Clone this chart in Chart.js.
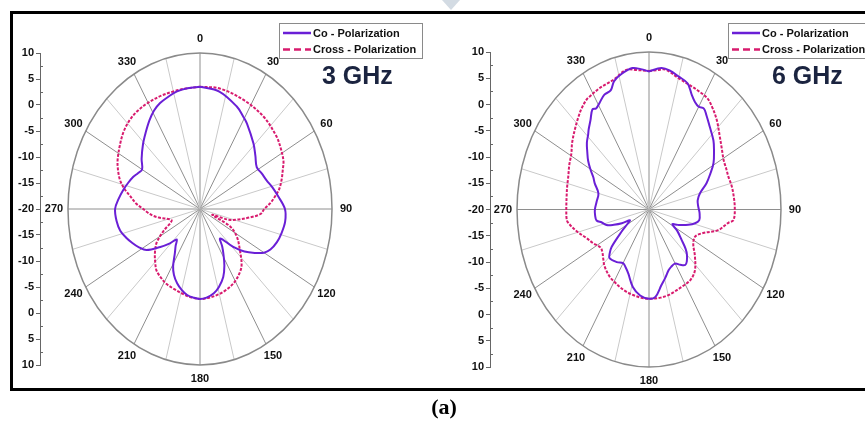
<!DOCTYPE html>
<html>
<head>
<meta charset="utf-8">
<script src="https://cdn.jsdelivr.net/npm/chart.js@4.4.1/dist/chart.umd.min.js"></script>
<style>
  body { margin: 0; background: #fff; width: 865px; height: 421px; overflow: hidden; position: relative; }
  #frame { position: absolute; left: 10px; top: 11px; width: 900px; height: 374px; border: 3px solid #000; border-right: none; }
  #tri { position: absolute; left: 442px; top: 0; width: 0; height: 0; border-left: 9px solid transparent; border-right: 9px solid transparent; border-top: 10px solid #d3dbe3; }
  canvas { position: absolute; top: 0; }
  #c3 { left: 0; }
  #c6 { left: 440px; }
  #cap { position: absolute; left: 0; width: 888px; top: 394px; text-align: center; font: bold 22px 'Liberation Serif', 'Times New Roman', serif; }
</style>
</head>
<body>
<div id="frame"></div>
<div id="tri"></div>
<canvas id="c3" width="440" height="421"></canvas>
<canvas id="c6" width="425" height="421"></canvas>
<div id="cap">(a)</div>
<script>
// radial axis: centre is -20 dB, rim is +10 dB
var DB_MIN = -20;
var RANGE = 30;
var dbTicks = [10, 5, 0, -5, -10, -15, -20, -15, -10, -5, 0, 5, 10];
var angleTicks = ['0', '30', '60', '90', '120', '150', '180', '210', '240', '270', '300', '330'];
var seriesNames = ['Co - Polarization', 'Cross - Polarization'];

// 3 GHz, co-polarization (angle in degrees, gain in dB)
var ang3Co = [0, 11, 23, 29, 33, 44, 51, 58, 64, 70, 76, 82, 90, 97, 104, 110, 116, 120, 124, 129, 134, 141, 145, 148, 153, 158, 164, 169, 175,
  180, 185, 190, 195, 200, 205, 209, 214, 218, 222, 226, 231, 237, 242, 247, 252, 257, 263, 270, 276, 282, 287, 292, 296, 300, 306, 314, 320, 326, 331, 336, 342, 347, 353];
var co3 = [3.5, 3.0, 1.4, 0.3, -0.4, -2.5, -3.8, -4.8, -4.4, -3.9, -3.0, -2.1, -0.7, -0.5, -0.9, -1.4, -2.2, -3.2, -4.9, -7.0, -9.5, -12.7, -11.2, -10.0, -7.8, -5.9, -4.4, -3.5, -2.9,
  -2.7, -2.9, -3.2, -3.9, -4.8, -6.0, -7.4, -9.8, -11.0, -12.1, -10.5, -8.4, -5.5, -4.3, -3.3, -2.3, -1.4, -0.9, -0.7, -1.4, -2.2, -2.9, -3.6, -4.3, -4.8, -3.6, -2.0, -0.8, 0.55, 1.6, 2.3, 2.8, 3.2, 3.4];

// 3 GHz, cross-polarization
var ang3Cr = [0, 11, 25, 39, 51, 57, 64, 68, 73, 78, 82, 86, 90, 94, 98, 104, 108, 112, 116, 122, 131, 139, 145, 152, 160, 167, 174,
  180, 187, 193, 200, 208, 214, 220, 225, 229, 233, 237, 243, 251, 256, 260, 263, 267, 270, 274, 279, 283, 287, 292, 297, 305, 311, 317, 323, 330, 338, 345, 352];
var cross3 = [3.5, 3.6, 3.2, 2.9, 2.3, 1.8, 1.1, 0.3, -0.6, -1.6, -2.8, -4.0, -5.4, -6.2, -8.5, -11.5, -13.5, -17.0, -12.5, -10.2, -8.0, -5.6, -4.6, -3.8, -3.3, -3.0, -2.8,
  -2.7, -2.9, -3.2, -3.5, -3.7, -4.1, -4.6, -5.6, -6.4, -7.3, -8.3, -10.7, -13.2, -12.2, -10.5, -9.3, -8.0, -7.1, -5.5, -3.9, -2.3, -1.0, 0.1, 1.0, 2.1, 2.9, 3.4, 3.6, 3.6, 3.5, 3.4, 3.4];

// 6 GHz, co-polarization
var ang6Co = [0, 6, 10, 15, 20, 24, 27, 30, 33, 36, 41, 48, 53, 59, 64, 69, 75, 81, 87, 93, 100, 104, 108, 114, 118, 122, 128, 132, 135, 139, 142, 146, 150, 155, 159, 164, 169, 175,
  180, 187, 194, 201, 206, 210, 216, 224, 227, 230, 236, 241, 245, 247, 250, 253, 257, 260, 265, 270, 277, 285, 292, 296, 300, 304, 308, 312, 316, 318, 322, 326, 328, 331, 335, 339, 342, 346, 352, 356];
var co6 = [6.3, 7.1, 6.9, 6.2, 5.6, 3.9, 3.0, 2.6, 2.9, 2.2, 1.0, -0.3, -1.5, -2.9, -4.5, -6.0, -8.0, -8.8, -8.8, -8.5, -8.4, -9.2, -10.6, -12.8, -14.0, -12.5, -10.6, -8.8, -7.8, -6.9, -6.6, -7.3, -8.1, -8.0, -7.6, -6.5, -5.3, -3.3,
  -3.0, -3.5, -4.8, -6.9, -7.8, -8.2, -7.6, -7.1, -7.8, -8.9, -12.5, -14.5, -15.2, -13.3, -11.5, -9.9, -9.0, -7.9, -7.7, -7.7, -8.0, -8.1, -6.7, -5.9, -4.6, -3.3, -2.2, -1.0, -0.1, 0.5, 1.6, 3.0, 2.7, 3.2, 4.1, 4.3, 5.7, 6.5, 7.2, 6.8];

// 6 GHz, cross-polarization
var ang6Cr = [0, 4, 8, 15, 22, 27, 32, 36, 42, 49, 55, 61, 66, 71, 76, 81, 89, 96, 98, 104, 110, 116, 123, 130, 138, 145, 153, 160, 165, 171, 176,
  180, 186, 192, 198, 204, 209, 215, 223, 228, 233, 237, 243, 249, 256, 262, 264, 270, 278, 283, 289, 295, 301, 306, 312, 318, 322, 326, 328, 334, 338, 342, 349, 354];
var cross6 = [6.4, 6.6, 6.9, 5.9, 5.4, 5.2, 5.0, 4.3, 3.0, 1.3, 0.2, -0.6, -0.8, -0.9, -0.7, -0.6, -0.5, -0.7, -1.8, -3.8, -6.9, -8.3, -8.0, -6.4, -4.4, -3.6, -3.5, -3.3, -3.1, -3.0, -3.0,
  -3.0, -3.1, -3.3, -3.5, -3.8, -4.1, -4.4, -5.2, -6.0, -6.7, -6.8, -5.8, -4.8, -3.0, -1.5, -1.2, -1.2, -1.1, -0.9, -0.6, 0.0, 0.6, 1.6, 2.7, 3.9, 4.7, 5.3, 5.4, 5.7, 5.8, 6.0, 7.1, 6.7];

var FONT = "'Liberation Sans', Arial, sans-serif";

// polar reading -> x/y in the chart's own linear scales, loop closed
function toXY(angles, values) {
  var pts = angles.map(function (a, i) {
    var r = Math.max(values[i] - DB_MIN, 0);
    var t = a * Math.PI / 180;
    return { x: r * Math.sin(t), y: r * Math.cos(t) };
  });
  pts.push(pts[0]);
  return pts;
}

var polarGrid = {
  id: 'polarGrid',
  beforeDatasetsDraw: function (chart) {
    var ctx = chart.ctx, xs = chart.scales.x, ys = chart.scales.y;
    var cx = xs.getPixelForValue(0), cy = ys.getPixelForValue(0);
    var rx = xs.getPixelForValue(RANGE) - cx, ry = cy - ys.getPixelForValue(RANGE);
    ctx.save();
    for (var a = 0; a < 360; a += 15) {
      var t = a * Math.PI / 180;
      ctx.strokeStyle = a % 30 === 0 ? '#8e8e8e' : '#c9c9c9';
      ctx.lineWidth = 1;
      ctx.beginPath();
      ctx.moveTo(cx, cy);
      ctx.lineTo(cx + rx * Math.sin(t), cy - ry * Math.cos(t));
      ctx.stroke();
    }
    ctx.strokeStyle = '#8a8a8a';
    ctx.lineWidth = 1.5;
    ctx.beginPath();
    ctx.ellipse(cx, cy, rx, ry, 0, 0, 2 * Math.PI);
    ctx.stroke();

    ctx.fillStyle = '#111';
    ctx.font = 'bold 11px ' + FONT;
    ctx.textAlign = 'center';
    ctx.textBaseline = 'middle';
    angleTicks.forEach(function (lab, i) {
      var t = i * 30 * Math.PI / 180;
      ctx.fillText(lab, cx + (rx + 14) * Math.sin(t), cy - (ry + 14) * Math.cos(t));
    });

    // minor ticks on the dB axis
    ctx.strokeStyle = '#666';
    ctx.lineWidth = 1;
    var ax = chart.chartArea.left;
    for (var v = -RANGE + 2.5; v < RANGE; v += 5) {
      var py = Math.round(ys.getPixelForValue(v)) + 0.5;
      ctx.beginPath();
      ctx.moveTo(ax, py);
      ctx.lineTo(ax + 3, py);
      ctx.stroke();
    }
    ctx.restore();
  },
  afterDatasetsDraw: function (chart, args, opts) {
    var ctx = chart.ctx;
    var lx = opts.legendX, ly = opts.legendY;
    ctx.save();
    ctx.fillStyle = '#fff';
    ctx.fillRect(lx, ly, 143, 35);
    ctx.strokeStyle = '#8a8a8a';
    ctx.lineWidth = 1;
    ctx.strokeRect(lx + 0.5, ly + 0.5, 143, 35);
    ctx.font = 'bold 11px ' + FONT;
    ctx.textBaseline = 'middle';
    ctx.textAlign = 'left';
    chart.data.datasets.forEach(function (ds, i) {
      var yy = ly + 10 + i * 16.5;
      ctx.strokeStyle = ds.borderColor;
      ctx.lineWidth = 2.5;
      ctx.setLineDash(i === 1 ? [7, 4] : []);
      ctx.beginPath();
      ctx.moveTo(lx + 4, yy);
      ctx.lineTo(lx + 32, yy);
      ctx.stroke();
      ctx.setLineDash([]);
      ctx.fillStyle = '#111';
      ctx.fillText(ds.label, lx + 34, yy + 0.5);
    });
    ctx.fillStyle = '#1b2440';
    ctx.font = 'bold 25px ' + FONT;
    ctx.textBaseline = 'alphabetic';
    ctx.fillText(opts.freq, opts.freqX, opts.freqY);
    ctx.restore();
  }
};

function makePolar(id, coAng, coVal, crAng, crVal, halfX, pad, plugOpts) {
  return new Chart(document.getElementById(id), {
    type: 'scatter',
    data: {
      datasets: [{
        label: seriesNames[0],
        data: toXY(coAng, coVal),
        showLine: true,
        borderColor: '#6a1fd6',
        borderWidth: 2,
        pointRadius: 0,
        tension: 0.35
      }, {
        label: seriesNames[1],
        data: toXY(crAng, crVal),
        showLine: true,
        borderColor: '#d81b6e',
        borderWidth: 2,
        borderDash: [3, 1.5],
        pointRadius: 0,
        tension: 0.35
      }]
    },
    options: {
      responsive: false,
      animation: false,
      events: [],
      layout: { padding: pad },
      plugins: {
        legend: { display: false },
        tooltip: { enabled: false },
        polarGrid: plugOpts
      },
      scales: {
        x: { type: 'linear', display: false, min: -halfX, max: halfX },
        y: {
          type: 'linear',
          min: -RANGE,
          max: RANGE,
          afterFit: function (scale) { scale.width = 30; },
          ticks: {
            stepSize: 5,
            padding: 2,
            color: '#111',
            font: { family: FONT, weight: 'bold', size: 11 },
            callback: function (v, i) { return dbTicks[i]; }
          },
          grid: { drawOnChartArea: false, tickLength: 4, color: '#666' },
          border: { color: '#666', width: 1 }
        }
      }
    },
    plugins: [polarGrid]
  });
}

makePolar('c3', ang3Co, co3, ang3Cr, cross3, 36.36,
  { left: 10, top: 53, right: 80, bottom: 56 },
  { legendX: 279, legendY: 23, freq: '3 GHz', freqX: 322, freqY: 84 });

makePolar('c6', ang6Co, co6, ang6Cr, cross6, 36.14,
  { left: 20, top: 52, right: 57, bottom: 54 },
  { legendX: 288, legendY: 23, freq: '6 GHz', freqX: 332, freqY: 84 });
</script>
</body>
</html>
